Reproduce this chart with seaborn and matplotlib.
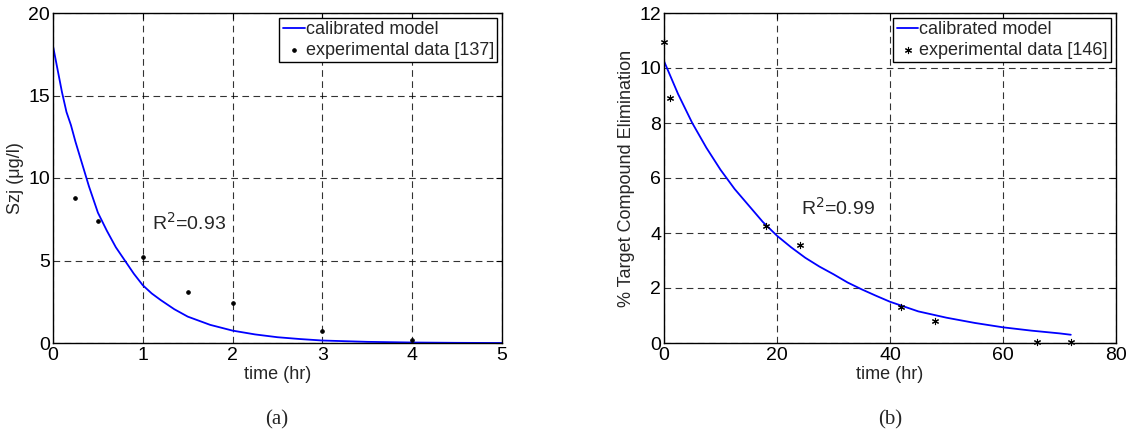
import matplotlib
matplotlib.use('Agg')
import matplotlib.pyplot as plt
import seaborn as sns
import pandas as pd
import numpy as np

# Panel (a): Szj vs time
model_a_t = [0, 0.05, 0.1, 0.15, 0.2, 0.25, 0.3, 0.35, 0.4, 0.45, 0.5, 0.6, 0.7, 0.8, 0.9, 1.0,
             1.1, 1.2, 1.35, 1.5, 1.75, 2.0, 2.25, 2.5, 2.75, 3.0, 3.5, 4.0, 4.5, 5.0]
model_a_y = [18.0, 16.6, 15.2, 14.0, 13.2, 12.2, 11.3, 10.4, 9.5, 8.7, 7.9, 6.8, 5.8, 5.0, 4.2, 3.5,
             3.0, 2.6, 2.05, 1.6, 1.1, 0.75, 0.52, 0.35, 0.24, 0.15, 0.07, 0.03, 0.01, 0.0]
exp_a_t = [0.25, 0.5, 1.0, 1.5, 2.0, 3.0, 4.0]
exp_a_y = [8.8, 7.4, 5.2, 3.1, 2.4, 0.7, 0.2]

# Panel (b): % target compound elimination vs time
model_b_t = [0, 2.5, 5, 7.5, 10, 12.5, 15, 17.5, 20, 22.5, 25, 27.5, 30, 32.5, 35, 37.5, 40,
             45, 50, 55, 60, 65, 70, 72]
model_b_y = [10.25, 9.05, 8.0, 7.1, 6.3, 5.6, 5.0, 4.4, 3.9, 3.48, 3.1, 2.78, 2.5, 2.2, 1.95,
             1.72, 1.5, 1.15, 0.92, 0.73, 0.57, 0.45, 0.35, 0.3]
exp_b_t = [0, 1, 18, 24, 42, 48, 66, 72]
exp_b_y = [10.95, 8.9, 4.25, 3.55, 1.3, 0.8, 0.05, 0.05]

sns.set_style('white')
plt.rcParams['font.family'] = ['Liberation Sans', 'DejaVu Sans']
plt.rcParams['font.size'] = 12
plt.rcParams['xtick.direction'] = 'in'
plt.rcParams['ytick.direction'] = 'in'

# MATLAB-like asterisk
ASTERISK = (6, 2, 0)


def draw_panel(ax, mt, my, et, ey, marker, msize, exp_label, xlim, xticks, ylim, yticks, ylabel, r2, r2_pos):
    model = pd.DataFrame({'t': mt, 'y': my})
    exp = pd.DataFrame({'t': et, 'y': ey})
    sns.lineplot(data=model, x='t', y='y', ax=ax, color='#0000ff', linewidth=1.3,
                 label='calibrated model')
    sns.scatterplot(data=exp, x='t', y='y', ax=ax, color='black', marker=marker, s=msize,
                    linewidth=0.8, edgecolor='black', label=exp_label, zorder=5,
                    clip_on=False)
    ax.set_xlim(*xlim)
    ax.set_ylim(*ylim)
    ax.set_xticks(xticks)
    ax.set_yticks(yticks)
    ax.grid(True, color='black', linestyle=(0, (6, 4)), linewidth=0.8, alpha=0.8)
    ax.set_axisbelow(True)
    for s in ax.spines.values():
        s.set_color('black')
        s.set_linewidth(1.0)
    ax.tick_params(which='both', top=True, right=True, length=4, width=0.8, colors='black',
                   labelsize=14)
    ax.tick_params(axis='x', pad=3)
    ax.tick_params(axis='y', pad=2)
    ax.set_xlabel('time (hr)', fontsize=13, labelpad=1)
    ax.set_ylabel(ylabel, fontsize=13, labelpad=3)
    ax.text(r2_pos[0], r2_pos[1], r2, fontsize=14, va='center', ha='left')
    leg = ax.legend(loc='upper right', fancybox=False, edgecolor='black', framealpha=1,
                    borderaxespad=0.25, handlelength=1.2, handletextpad=0.05,
                    borderpad=0.2, labelspacing=0.2, fontsize=13)
    leg.get_frame().set_linewidth(1.0)
    leg.set_zorder(10)


fig = plt.figure(figsize=(11.31, 4.43), dpi=100)
ax1 = fig.add_axes([53 / 1131, 1 - 343 / 443, 449 / 1131, 330 / 443])
ax2 = fig.add_axes([664 / 1131, 1 - 343 / 443, 452 / 1131, 330 / 443])

draw_panel(ax1, model_a_t, model_a_y, exp_a_t, exp_a_y, '.', 25, 'experimental data [137]',
           (0, 5), [0, 1, 2, 3, 4, 5], (0, 20), [0, 5, 10, 15, 20],
           'Szj (\u03bcg/l)', 'R$^2$=0.93', (1.1, 7.3))
draw_panel(ax2, model_b_t, model_b_y, exp_b_t, exp_b_y, ASTERISK, 20, 'experimental data [146]',
           (0, 80), [0, 20, 40, 60, 80], (0, 12), [0, 2, 4, 6, 8, 10, 12],
           '% Target Compound Elimination', 'R$^2$=0.99', (24.3, 4.9))

fig.text(277 / 1131, 1 - 420 / 443, '(a)', ha='center', va='center', fontsize=15,
         family='Liberation Serif')
fig.text(890 / 1131, 1 - 420 / 443, '(b)', ha='center', va='center', fontsize=15,
         family='Liberation Serif')

fig.savefig('out.png', dpi=100)
